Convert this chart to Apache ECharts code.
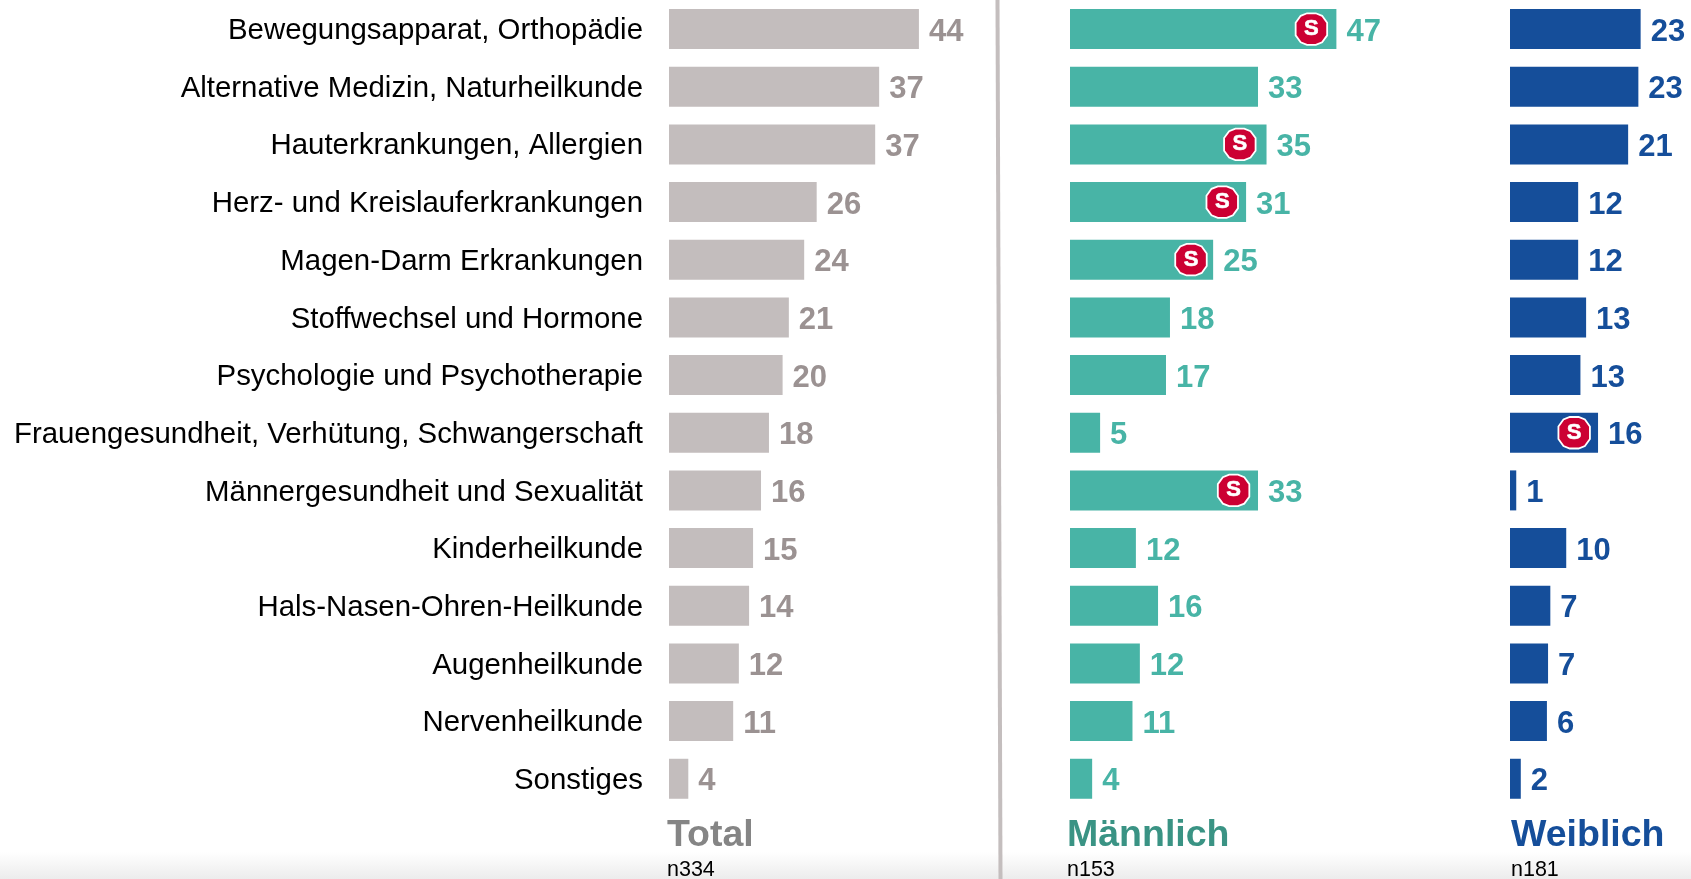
<!DOCTYPE html>
<html><head><meta charset="utf-8">
<style>html,body{margin:0;padding:0;background:#fff}#c{width:1691px;height:879px}</style>
<script src="https://cdn.jsdelivr.net/npm/echarts@6/dist/echarts.min.js"></script>
</head><body><div id="c"></div>
<script>
const categories = ["Bewegungsapparat, Orthopädie","Alternative Medizin, Naturheilkunde","Hauterkrankungen, Allergien","Herz- und Kreislauferkrankungen","Magen-Darm Erkrankungen","Stoffwechsel und Hormone","Psychologie und Psychotherapie","Frauengesundheit, Verhütung, Schwangerschaft","Männergesundheit und Sexualität","Kinderheilkunde","Hals-Nasen-Ohren-Heilkunde","Augenheilkunde","Nervenheilkunde","Sonstiges"];
// printed labels
const totalLabels = [44,37,37,26,24,21,20,18,16,15,14,12,11,4];
const maleLabels  = [47,33,35,31,25,18,17,5,33,12,16,12,11,4];
const femaleLabels= [23,23,21,12,12,13,13,16,1,10,7,7,6,2];
// bar lengths (they differ slightly from the printed, rounded labels)
const totalBars  = [44,37,36.3,26,23.8,21.1,20,17.6,16.2,14.8,14.1,12.3,11.3,3.4];
const maleBars   = [46.9,33.1,34.6,31,25.2,17.6,16.9,5.3,33.1,11.6,15.5,12.3,11,3.9];
const femaleBars = [23,22.6,20.8,12,12,13.4,12.4,15.5,1.1,9.9,7.1,6.7,6.5,1.9];
// "S" significance badges: position along the value axis, null = none
const maleBadges   = [42.5,null,29.9,26.8,21.3,null,null,null,28.8,null,null,null,null,null];
const femaleBadges = [null,null,null,null,null,null,null,11.3,null,null,null,null,null,null];
const panelNames = ["Total","Männlich","Weiblich"];
const panelN = ["n334","n153","n181"];

const FONT = '"Liberation Sans", Arial, sans-serif';
const PXU = 5.68, TOP = 0.2, H = 807.4;
const lefts = [669,1070,1510], maxes = [50,50,30];
const barCols = ['#c3bdbd','#48b4a6','#154e9a'];
const lblCols = ['#9b9292','#48b4a6','#154e9a'];
const titleCols = ['#858585','#3a9384','#154e9a'];
const bars = [totalBars,maleBars,femaleBars], lbls=[totalLabels,maleLabels,femaleLabels];
const BADGE = 'path://M36,0 L64,0 L84,8 L100,30 L100,70 L84,92 L64,100 L36,100 L16,92 L0,70 L0,30 L16,8 Z';

const series = [];
bars.forEach((b,i)=>{
  series.push({type:'bar',xAxisIndex:i,yAxisIndex:i,data:b,barWidth:40,
    itemStyle:{color:barCols[i]},silent:true,
    label:{show:true,position:'right',distance:10,offset:[0,3],color:lblCols[i],fontFamily:FONT,fontWeight:'bold',fontSize:31,
      formatter:p=>String(lbls[i][p.dataIndex])}});
});
[[1,maleBadges],[2,femaleBadges]].forEach(([i,arr])=>{
  series.push({type:'scatter',xAxisIndex:i,yAxisIndex:i,z:5,silent:true,symbol:BADGE,symbolSize:31.5,
    data:arr.map((v,k)=>v==null?null:[v,categories[k]]).filter(Boolean),
    itemStyle:{color:'#cc0033',opacity:1,borderColor:'#fff',borderWidth:1.8},
    label:{show:true,position:'inside',formatter:'S',color:'#fff',fontFamily:FONT,fontWeight:'bold',fontSize:22,
      textBorderColor:'#fff',textBorderWidth:0.6}});
});

const titles=[];
panelNames.forEach((n,i)=>{
  const x = lefts[i]-[2,3,-1][i];
  titles.push({text:n,left:x,top:817,padding:0,textStyle:{fontFamily:FONT,fontWeight:'bold',fontSize:37.5,color:titleCols[i]}});
  titles.push({text:panelN[i],left:x,top:859,padding:0,textStyle:{fontFamily:FONT,fontWeight:'normal',fontSize:21.5,color:'#000'}});
});

const chart = echarts.init(document.getElementById('c'),null,{renderer:'canvas'});
chart.setOption({
  animation:false,backgroundColor:'#fff',
  title:titles,
  grid:lefts.map((l,i)=>({left:l,top:TOP,width:maxes[i]*PXU,height:H,containLabel:false})),
  xAxis:maxes.map((m,i)=>({type:'value',gridIndex:i,min:0,max:m,show:false})),
  yAxis:lefts.map((l,i)=>({type:'category',gridIndex:i,data:categories,inverse:true,
    axisLine:{show:false},axisTick:{show:false},splitLine:{show:false},
    axisLabel:{show:i===0,margin:26,fontFamily:FONT,fontSize:29.4,color:'#000',lineHeight:4,verticalAlign:'top'}})),
  series,
  graphic:[
    {type:'rect',z:-10,shape:{x:0,y:852,width:1691,height:27},
     style:{fill:new echarts.graphic.LinearGradient(0,0,0,1,[{offset:0,color:'#ffffff'},{offset:1,color:'#ececec'}])},silent:true},
    {type:'line',z:1,shape:{x1:997.5,y1:0,x2:1000.5,y2:879},style:{stroke:'#c4bebe',lineWidth:4},silent:true}
  ]
});
</script></body></html>
